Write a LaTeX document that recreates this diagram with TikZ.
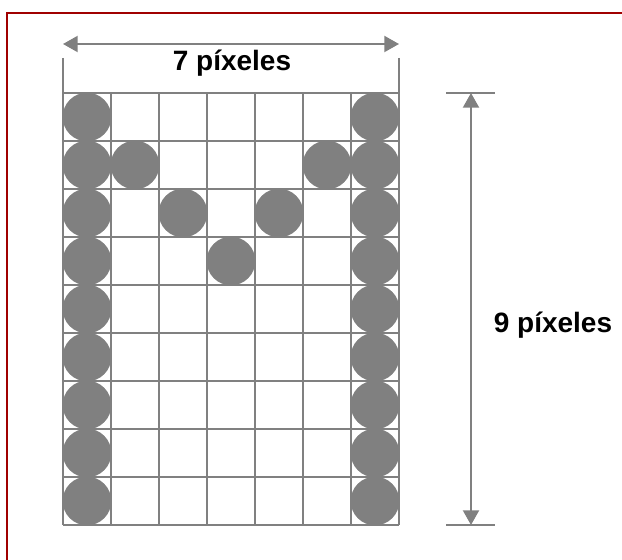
\documentclass[tikz,border=0pt]{standalone}
\usepackage{fontspec}
\setmainfont{Liberation Sans}
\usetikzlibrary{arrows.meta}
\definecolor{pixgray}{HTML}{808080}
\definecolor{framered}{HTML}{A00000}

\begin{document}
\begin{tikzpicture}[x=0.75pt,y=-0.75pt,font=\fontsize{21}{25}\selectfont\bfseries,
  >={Triangle[length=11pt,width=12pt]},
  gridline/.style={draw=pixgray,line width=0.9pt},
  dimline/.style={draw=pixgray,line width=1.5pt},
  pix/.style={circle,fill=pixgray,minimum size=36.5pt,inner sep=0pt}]
  \useasboundingbox (0,0) rectangle (622,560);
  \draw[framered,line width=2pt] (7,13) rectangle (640,580);
  % grid of 7 x 9 cells
  \foreach \c in {1,...,6}
    \draw[gridline] (63+48*\c,93) -- (63+48*\c,525);
  \draw[gridline] (63,58) -- (63,525);
  \draw[gridline] (399,58) -- (399,525);
  \foreach \r in {0,...,9}
    \draw[gridline] (63,93+48*\r) -- (399,93+48*\r);
  % lit pixels
  \foreach \c/\r in {1/1,7/1,1/2,2/2,6/2,7/2,1/3,3/3,5/3,7/3,1/4,4/4,7/4,
                     1/5,7/5,1/6,7/6,1/7,7/7,1/8,7/8,1/9,7/9}
    \node[pix] (p\c-\r) at (39+48*\c,69+48*\r) {};
  % width
  \coordinate (wL) at (63,44);
  \coordinate (wR) at (399,44);
  \draw[dimline,<->] (wL) -- (wR);
  \node[anchor=base] (wlabel) at (232,71) {7 píxeles};
  % height
  \coordinate (hT) at (471,93);
  \coordinate (hB) at (471,525);
  \draw[dimline] (446,93) -- (495,93);
  \draw[dimline] (446,525) -- (495,525);
  \draw[dimline,<->] (hT) -- (hB);
  \node[anchor=base] (hlabel) at (553,332) {9 píxeles};
\end{tikzpicture}
\end{document}
